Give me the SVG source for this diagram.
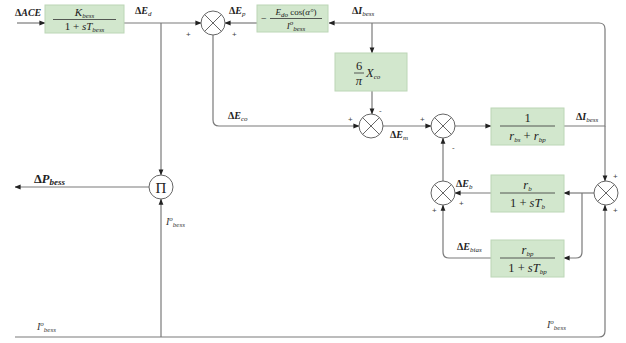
<svg xmlns="http://www.w3.org/2000/svg" width="626" height="343" viewBox="0 0 626 343">
<defs>
<marker id="ar" viewBox="0 0 8 8" refX="7.5" refY="4" markerWidth="6" markerHeight="6" orient="auto" markerUnits="userSpaceOnUse">
<path d="M0,0.8 L8,4 L0,7.2 z" fill="#222"/>
</marker>
</defs>
<style>
.bx{fill:#d2e7cd;stroke:#bcd6b6;stroke-width:1}
.cn{fill:none;stroke:#7a7a7a;stroke-width:1.2;marker-end:url(#ar)}
.sc{fill:#fff;stroke:#666;stroke-width:1}
.t{font-family:"Liberation Serif",serif;font-size:10px;fill:#222;font-style:italic;font-weight:bold}
.tl{font-family:"Liberation Serif",serif;font-size:10px;fill:#333;font-style:italic}
.tb{font-family:"Liberation Serif",serif;font-size:12.5px;fill:#222;font-style:italic}
.s{font-size:7px;font-weight:normal}
.u{font-style:normal}
.pm{font-family:"Liberation Sans",sans-serif;font-size:8px;fill:#444}
.fl{stroke:#333;stroke-width:0.8}
</style>
<g id="connectors">
<path class="cn" d="M17,23 H45"/>
<path class="cn" d="M124,23 H201"/>
<path class="cn" d="M161,23 V175"/>
<path class="cn" d="M257,23 H225"/>
<path class="cn" d="M564,126 H605 V29 Q605,23 599,23 H329"/>
<path class="cn" d="M605,126 V181"/>
<path class="cn" d="M372,23 V53"/>
<path class="cn" d="M372,91 V114"/>
<path class="cn" d="M213,35 V120 Q213,126 219,126 H359"/>
<path class="cn" d="M383,126 H431"/>
<path class="cn" d="M455,126 H491"/>
<path class="cn" d="M594,193 H564"/>
<path class="cn" d="M582,193 V252 Q582,258 576,258 H564"/>
<path class="cn" d="M491,193 H455"/>
<path class="cn" d="M491,258 H449 Q443,258 443,252 V205"/>
<path class="cn" d="M443,181 V138"/>
<path class="cn" d="M15,337 H599 Q605,337 605,331 V205"/>
<path class="cn" d="M161,337 V199"/>
<path class="cn" d="M149,187 H15"/>
</g>
<g id="b1">
<rect class="bx" x="45" y="5" width="79" height="28"/>
<text class="tb" x="84.5" y="16" text-anchor="middle" style="font-size:11px">K<tspan class="s" dy="2">bess</tspan></text>
<line class="fl" x1="53" y1="19.5" x2="116" y2="19.5"/>
<text class="tb" x="84.5" y="30" text-anchor="middle" style="font-size:11px"><tspan class="u">1 + </tspan>sT<tspan class="s" dy="2">bess</tspan></text>
</g>
<g id="b2">
<rect class="bx" x="257" y="5" width="71" height="27"/>
<text class="tb u" x="261" y="22" style="font-size:10px">−</text>
<text class="tb" x="296" y="15" text-anchor="middle" style="font-size:9px">E<tspan class="s" dy="2">do</tspan><tspan class="u" dy="-2"> cos(</tspan>α°<tspan class="u">)</tspan></text>
<line class="fl" x1="270" y1="18.5" x2="322" y2="18.5"/>
<text class="tb" x="296" y="29" text-anchor="middle" style="font-size:9px">I<tspan class="s" dy="-4">o</tspan><tspan class="s" dy="6">bess</tspan></text>
</g>
<g id="b3">
<rect class="bx" x="335" y="53" width="72" height="38"/>
<text class="tb u" x="359" y="70" text-anchor="middle">6</text>
<line class="fl" x1="354" y1="73" x2="364" y2="73"/>
<text class="tb" x="359" y="85" text-anchor="middle">π</text>
<text class="tb" x="366" y="77">X<tspan class="s" dy="2">co</tspan></text>
</g>
<g id="b4">
<rect class="bx" x="491" y="108" width="73" height="37"/>
<text class="tb u" x="527.5" y="122" text-anchor="middle">1</text>
<line class="fl" x1="500" y1="126" x2="555" y2="126"/>
<text class="tb" x="527.5" y="140" text-anchor="middle">r<tspan class="s" dy="2">bs</tspan><tspan class="u" dy="-2"> + </tspan>r<tspan class="s" dy="2">bp</tspan></text>
</g>
<g id="b5">
<rect class="bx" x="491" y="175" width="73" height="37"/>
<text class="tb" x="527.5" y="189" text-anchor="middle">r<tspan class="s" dy="2">b</tspan></text>
<line class="fl" x1="500" y1="193" x2="555" y2="193"/>
<text class="tb" x="527.5" y="207" text-anchor="middle"><tspan class="u">1 + </tspan>sT<tspan class="s" dy="2">b</tspan></text>
</g>
<g id="b6">
<rect class="bx" x="491" y="240" width="73" height="37"/>
<text class="tb" x="527.5" y="254" text-anchor="middle">r<tspan class="s" dy="2">bp</tspan></text>
<line class="fl" x1="500" y1="258" x2="555" y2="258"/>
<text class="tb" x="527.5" y="272" text-anchor="middle"><tspan class="u">1 + </tspan>sT<tspan class="s" dy="2">bp</tspan></text>
</g>
<g id="s1"><circle class="sc" cx="213" cy="23" r="12"/><path class="sc" d="M204.5,14.5 L221.5,31.5 M221.5,14.5 L204.5,31.5"/></g>
<g id="s2"><circle class="sc" cx="371" cy="126" r="12"/><path class="sc" d="M362.5,117.5 L379.5,134.5 M379.5,117.5 L362.5,134.5"/></g>
<g id="s3"><circle class="sc" cx="443" cy="126" r="12"/><path class="sc" d="M434.5,117.5 L451.5,134.5 M451.5,117.5 L434.5,134.5"/></g>
<g id="s4"><circle class="sc" cx="606" cy="193" r="12"/><path class="sc" d="M597.5,184.5 L614.5,201.5 M614.5,184.5 L597.5,201.5"/></g>
<g id="s5"><circle class="sc" cx="443" cy="193" r="12"/><path class="sc" d="M434.5,184.5 L451.5,201.5 M451.5,184.5 L434.5,201.5"/></g>
<g id="pi"><circle class="sc" cx="161" cy="187" r="12"/><text x="161" y="192.5" text-anchor="middle" style="font-family:'Liberation Serif',serif;font-size:15px;fill:#222">Π</text></g>
<g id="labels">
<text class="t" x="15" y="16"><tspan class="u">Δ</tspan>ACE</text>
<text class="t" x="135" y="14"><tspan class="u">Δ</tspan>E<tspan class="s" dy="2">d</tspan></text>
<text class="t" x="229" y="14"><tspan class="u">Δ</tspan>E<tspan class="s" dy="2">p</tspan></text>
<text class="t" x="352" y="14"><tspan class="u">Δ</tspan>I<tspan class="s" dy="2">bess</tspan></text>
<text class="t" x="228" y="119"><tspan class="u">Δ</tspan>E<tspan class="s" dy="2">co</tspan></text>
<text class="t" x="390" y="138"><tspan class="u">Δ</tspan>E<tspan class="s" dy="2">m</tspan></text>
<text class="t" x="576" y="120"><tspan class="u">Δ</tspan>I<tspan class="s" dy="2">bess</tspan></text>
<text class="t" x="456" y="187"><tspan class="u">Δ</tspan>E<tspan class="s" dy="2">b</tspan></text>
<text class="t" x="457" y="250"><tspan class="u">Δ</tspan>E<tspan class="s" dy="2">bias</tspan></text>
<text class="tb" x="34" y="183" style="font-weight:bold"><tspan class="u">Δ</tspan>P<tspan class="s" dy="2" style="font-size:9px;font-weight:bold">bess</tspan></text>
<text class="tl" x="166" y="225">I<tspan class="s" dy="-4">o</tspan><tspan class="s" dy="6">bess</tspan></text>
<text class="tl" x="37" y="330">I<tspan class="s" dy="-4">o</tspan><tspan class="s" dy="6">bess</tspan></text>
<text class="tl" x="547" y="328">I<tspan class="s" dy="-4">o</tspan><tspan class="s" dy="6">bess</tspan></text>
<text class="pm" x="186" y="37">+</text>
<text class="pm" x="232" y="37">+</text>
<text class="pm" x="348" y="122">+</text>
<text class="pm" x="379" y="113">-</text>
<text class="pm" x="420" y="122">+</text>
<text class="pm" x="452" y="150">-</text>
<text class="pm" x="459" y="206">+</text>
<text class="pm" x="432" y="213">+</text>
<text class="pm" x="613" y="179">+</text>
<text class="pm" x="613" y="213">+</text>
</g>
</svg>
